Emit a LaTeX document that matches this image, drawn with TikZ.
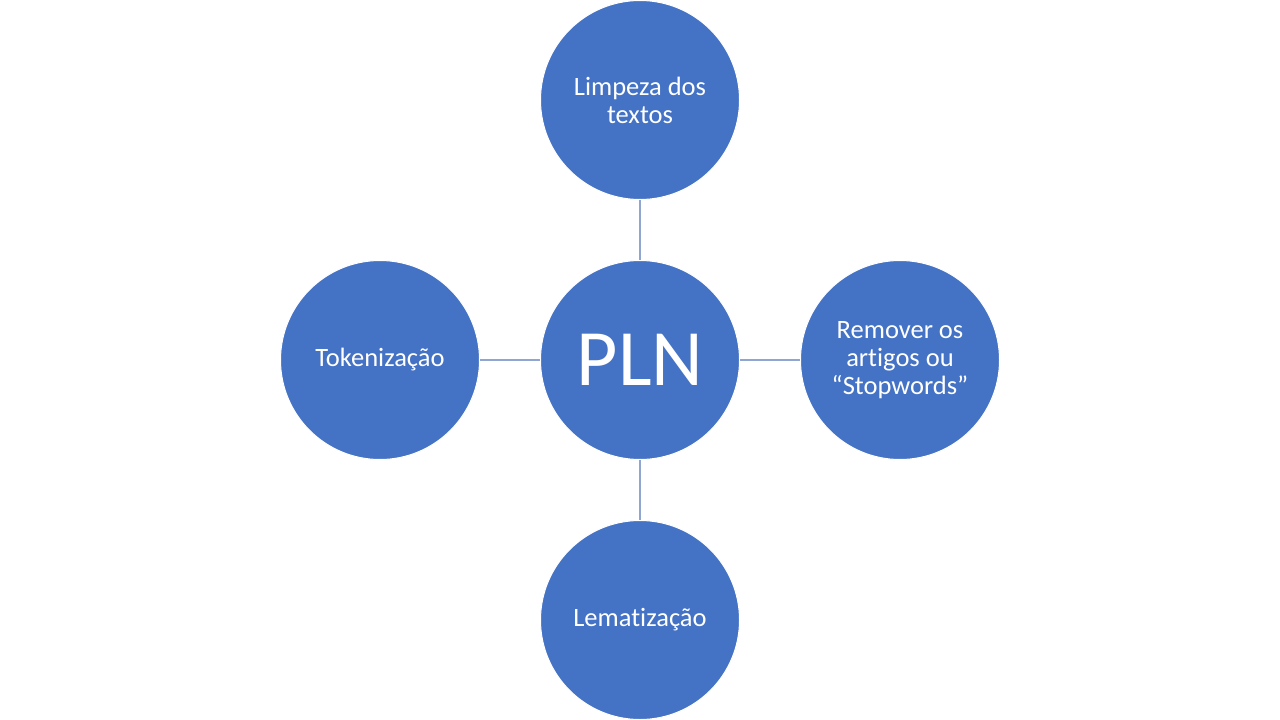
\documentclass[tikz,border=0pt]{standalone}
\usepackage{fontspec}
\setmainfont{Carlito}[Ligatures=NoCommon]
\definecolor{circfill}{HTML}{4472C4}
\definecolor{linkcol}{HTML}{8FA6D2}
\begin{document}
\begin{tikzpicture}[x=1pt,y=-1pt,
  bubble/.style={circle,fill=circfill,draw=white,line width=1pt,minimum size=199pt,inner sep=0pt,text=white,align=center,font=\fontsize{26.5}{28}\selectfont},
  link/.style={draw=linkcol,line width=1.2pt}]
\useasboundingbox (0,0) rectangle (1280,720);
\fill[white] (0,0) rectangle (1280,720);
\node[bubble,font=\fontsize{80}{90}\selectfont] (pln) at (640,360) {PLN};
\node[bubble] (top) at (640,100) {Limpeza dos\\textos};
\node[bubble] (bot) at (640,620) {Lematização};
\node[bubble] (left) at (380,360) {Tokenização};
\node[bubble] (right) at (900,360) {Remover os\\artigos ou\\“Stopwords”};
\draw[link] (pln) -- (top);
\draw[link] (pln) -- (bot);
\draw[link] (pln) -- (left);
\draw[link] (pln) -- (right);
\end{tikzpicture}
\end{document}
